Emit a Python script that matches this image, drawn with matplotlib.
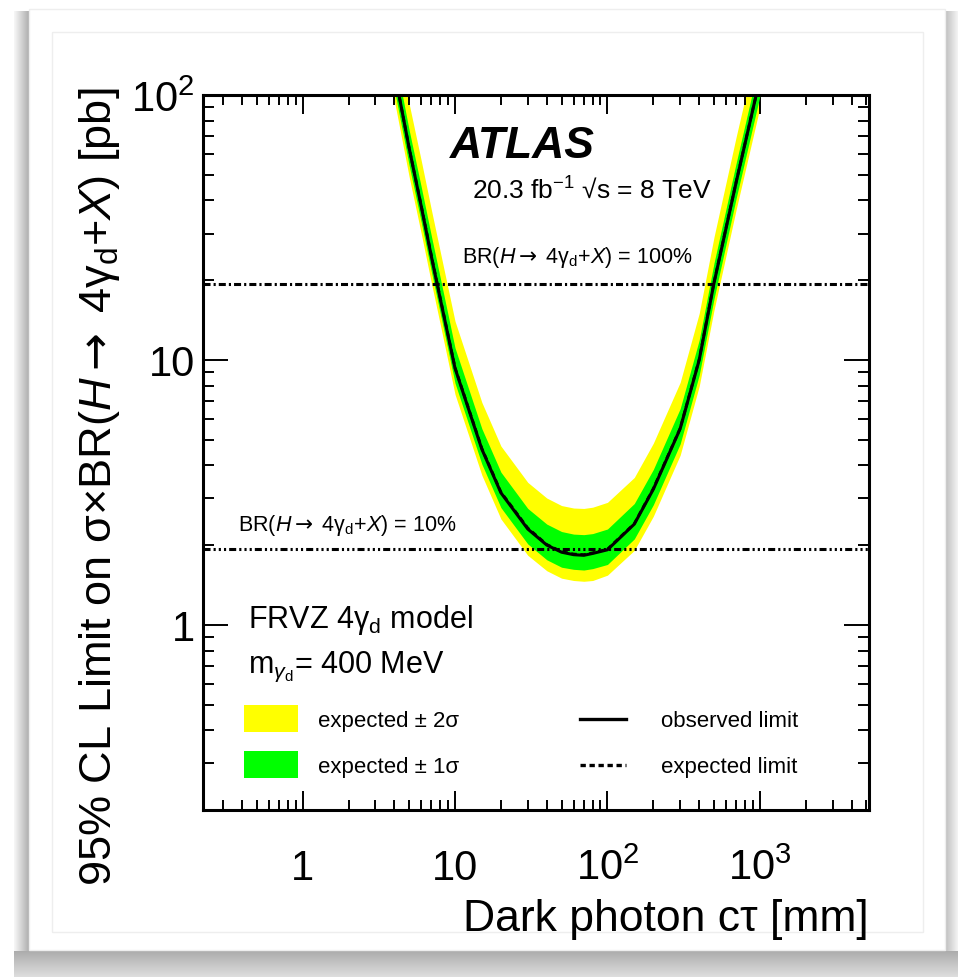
import numpy as np
import matplotlib
matplotlib.use("Agg")
import matplotlib.pyplot as plt
from matplotlib.patches import Rectangle
from matplotlib.lines import Line2D
from matplotlib.colors import LinearSegmentedColormap
from matplotlib.ticker import FixedLocator, FixedFormatter, LogLocator, NullFormatter

plt.rcParams['font.family'] = ['Liberation Sans', 'DejaVu Sans']
plt.rcParams['mathtext.fontset'] = 'custom'
plt.rcParams['mathtext.rm'] = 'Liberation Sans'
plt.rcParams['mathtext.it'] = 'Liberation Sans:italic'
plt.rcParams['mathtext.bf'] = 'Liberation Sans:bold'
plt.rcParams['mathtext.sf'] = 'DejaVu Sans'

# dark photon c*tau [mm]
ctau = [4, 5, 6, 7, 8, 10, 15, 20, 30, 40, 50, 60, 70, 80, 100, 150, 200, 300, 400, 500, 700, 1000]
observed = [123, 63, 38, 24.5, 17, 9.3, 4.6, 3.15, 2.3, 2.0, 1.88, 1.84, 1.83, 1.86, 1.92, 2.4,
            3.25, 5.5, 10, 19.5, 47, 115]
expected = [123, 63, 38.2, 24.7, 17.1, 9.35, 4.63, 3.17, 2.32, 2.01, 1.89, 1.85, 1.84, 1.87, 1.93, 2.41,
            3.27, 5.52, 10.05, 19.6, 47.2, 115]
minus2 = [95.2, 49.1, 30.0, 19.5, 13.6, 7.41, 3.67, 2.51, 1.83, 1.60, 1.50, 1.47, 1.46, 1.47, 1.54, 1.91,
          2.57, 4.37, 7.96, 15.4, 37.1, 89.7]
minus1 = [104.9, 54.2, 33.1, 21.5, 15.0, 8.17, 4.04, 2.77, 2.02, 1.76, 1.65, 1.62, 1.61, 1.63, 1.69, 2.11,
          2.84, 4.82, 8.77, 17.0, 40.9, 98.9]
plus1 = [142.7, 73.7, 45.0, 29.3, 20.4, 11.1, 5.50, 3.77, 2.75, 2.40, 2.25, 2.20, 2.19, 2.21, 2.30, 2.87,
         3.86, 6.55, 11.9, 23.2, 55.6, 135]
plus2 = [179.3, 92.6, 56.6, 36.8, 25.6, 14.0, 6.91, 4.73, 3.45, 3.01, 2.82, 2.76, 2.75, 2.78, 2.90, 3.60,
         4.85, 8.23, 15.0, 29.1, 69.8, 169]

br100 = 19.4
br10 = 1.94

xticks = [1, 10, 100, 1000]
xticklabels = ['1', '10', '$10^{2}$', '$10^{3}$']
yticks = [1, 10, 100]
yticklabels = ['1', '10', '$10^{2}$']

W, H = 960, 978
ARROW = '$\\mathsf{\\rightarrow}$'


def fx(x):
    return x / W


def fy(y):
    return 1 - y / H


fig = plt.figure(figsize=(9.6, 9.78), dpi=100)
fig.patch.set_facecolor('white')

# card with drop shadow behind the plot
bg = fig.add_axes([0, 0, 1, 1], zorder=-5)
bg.axis('off')
shade = LinearSegmentedColormap.from_list('shade', ['#ffffff', '#a8a8a8'])
ramp = np.linspace(0, 1, 64)
bg.imshow(ramp[:, None], extent=[14, 958, 950, 978], cmap=shade, aspect='auto', origin='upper', vmin=-0.6, vmax=1.0)
bg.imshow(ramp[None, :], extent=[14, 29, 12, 952], cmap=shade, aspect='auto', vmin=-0.1, vmax=1.1)
bg.imshow(ramp[None, ::-1], extent=[945, 958, 12, 952], cmap=shade, aspect='auto', vmin=-0.2, vmax=1.4)
bg.add_patch(Rectangle((29, 10), 916, 941, facecolor='white', edgecolor='#eeeeee', lw=1))
bg.add_patch(Rectangle((52, 33), 871, 900, facecolor='white', edgecolor='#eeeeee', lw=1))
bg.set_xlim(0, W)
bg.set_ylim(H, 0)

ax = fig.add_axes([fx(203), fy(811), fx(869) - fx(203), fy(96) - fy(811)])
ax.set_xscale('log')
ax.set_yscale('log')
ax.set_xlim(0.222, 5200)
ax.set_ylim(0.2, 100)

ax.fill_between(ctau, minus2, plus2, color='#ffff00', lw=0, zorder=1)
ax.fill_between(ctau, minus1, plus1, color='#00ff00', lw=0, zorder=2)
ax.plot(ctau, expected, color='black', lw=2.0, dashes=(2, 1.3), zorder=3)
ax.plot(ctau, observed, color='black', lw=2.2, zorder=4)

ax.axhline(br100, color='black', lw=2.2, ls=(0, (2.3, 1, 0.7, 1)), zorder=5)
ax.axhline(br10, color='black', lw=2.2, ls=(0, (2.3, 1, 0.7, 1, 0.7, 1, 0.7, 1)), zorder=5)

ax.xaxis.set_major_locator(FixedLocator(xticks))
ax.xaxis.set_major_formatter(FixedFormatter(xticklabels))
ax.yaxis.set_major_locator(FixedLocator(yticks))
ax.yaxis.set_major_formatter(FixedFormatter(yticklabels))
ax.xaxis.set_minor_locator(LogLocator(base=10, subs=np.arange(2, 10), numticks=20))
ax.yaxis.set_minor_locator(LogLocator(base=10, subs=np.arange(2, 10), numticks=20))
ax.xaxis.set_minor_formatter(NullFormatter())
ax.yaxis.set_minor_formatter(NullFormatter())

ax.tick_params(which='both', direction='in', top=True, right=True, width=1.4, labelsize=30)
ax.tick_params(axis='x', which='major', length=14, pad=50)
ax.tick_params(axis='x', which='minor', length=7)
ax.tick_params(axis='y', which='major', length=18, pad=6)
ax.tick_params(axis='y', which='minor', length=8)
for t in ax.xaxis.get_major_ticks():
    t.label1.set_verticalalignment('baseline')
for sp in ax.spines.values():
    sp.set_linewidth(2.2)

# axis titles
fig.text(fx(869), fy(931), 'Dark photon c\u03c4 [mm]', ha='right', va='baseline', fontsize=32)
fig.text(fx(100), fy(487), '95% CL Limit on \u03c3\u00d7BR($\\mathit{H}$' + ARROW + ' 4\u03b3$_{\\rm d}$+$\\mathit{X}$) [pb]',
         rotation=90, ha='center', va='center', fontsize=32.5)

# labels inside the frame
fig.text(fx(450), fy(158), 'ATLAS', fontsize=32, fontweight='bold', fontstyle='italic', va='baseline')
fig.text(fx(472), fy(198), '20.3 fb$^{-1}$ \u221as = 8 TeV', fontsize=19, va='baseline')
fig.text(fx(462), fy(263), 'BR($\\mathit{H}$' + ARROW + ' 4\u03b3$_{\\rm d}$+$\\mathit{X}$) = 100%', fontsize=15.5, va='baseline')
fig.text(fx(238), fy(531), 'BR($\\mathit{H}$' + ARROW + ' 4\u03b3$_{\\rm d}$+$\\mathit{X}$) = 10%', fontsize=15.5, va='baseline')
fig.text(fx(248), fy(628), 'FRVZ 4\u03b3$_{\\rm d}$ model', fontsize=22, va='baseline')
fig.text(fx(248), fy(673), 'm$_{\\gamma_{\\rm d}}$= 400 MeV', fontsize=22, va='baseline')

# legend drawn by hand, ROOT style
fig.patches.append(Rectangle((fx(244), fy(733)), fx(298) - fx(244), fy(706) - fy(733),
                             transform=fig.transFigure, facecolor='#ffff00', lw=0))
fig.patches.append(Rectangle((fx(244), fy(779)), fx(298) - fx(244), fy(752) - fy(779),
                             transform=fig.transFigure, facecolor='#00ff00', lw=0))
fig.lines.append(Line2D([fx(580), fx(626)], [fy(720), fy(720)], transform=fig.transFigure,
                        color='black', lw=2.4))
fig.lines.append(Line2D([fx(580), fx(626)], [fy(766), fy(766)], transform=fig.transFigure,
                        color='black', lw=2.4, dashes=(1.6, 1.1)))
fig.text(fx(318), fy(727), 'expected \u00b1 2\u03c3', fontsize=16, va='baseline')
fig.text(fx(318), fy(773), 'expected \u00b1 1\u03c3', fontsize=16, va='baseline')
fig.text(fx(661), fy(727), 'observed limit', fontsize=16, va='baseline')
fig.text(fx(661), fy(773), 'expected limit', fontsize=16, va='baseline')

fig.savefig('out.png', dpi=100)
